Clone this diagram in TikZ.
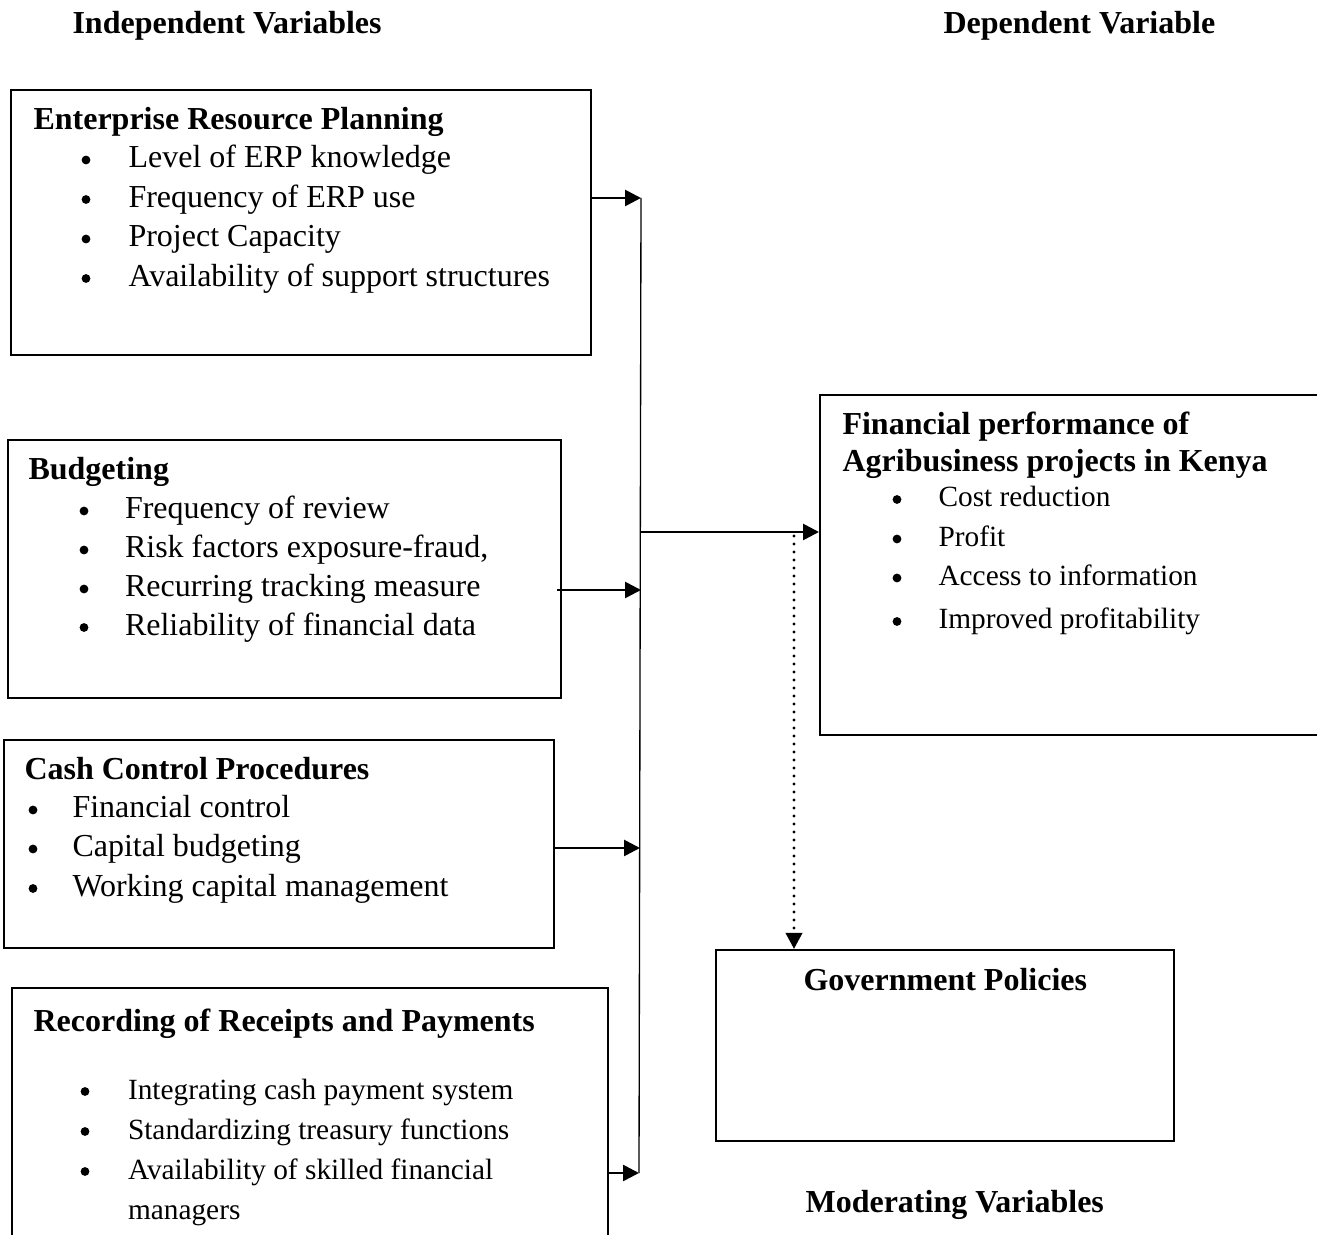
\documentclass[tikz,border=0pt]{standalone}
\usepackage{fontspec}
\setmainfont{Liberation Serif}
\usetikzlibrary{arrows.meta,fit}
\begin{document}
\begin{tikzpicture}[x=0.375pt,y=-0.375pt,
  every node/.style={font=\fontsize{12}{14}\selectfont, inner sep=0pt},
  box/.style={draw, line width=0.75pt, inner sep=0pt},
  ttl/.style={anchor=base west, font=\fontsize{12}{14}\selectfont\bfseries},
  itm/.style={anchor=base west},
  itms/.style={anchor=base west, font=\fontsize{11}{13}\selectfont},
  bul/.style={circle, fill, minimum size=3.3pt, inner sep=0pt},
  arr/.style={line width=1pt, -{Triangle[length=6pt,width=6pt]}},
  vl/.style={line width=0.5pt},
  dotarr/.style={line width=1.3pt, line cap=round, dash pattern=on 0pt off 3pt, -{Triangle[length=6pt,width=6pt]}}]
\useasboundingbox (0,0) rectangle (1317,1235);

% headers
\node[ttl] (hind) at (72,34) {Independent Variables};
\node[ttl] (hdep) at (943,34) {Dependent Variable};
\node[ttl] (hmod) at (805,1212) {Moderating Variables};

% boxes
\node[box, fit={(11,90)(591,355)}] (erp) {};
\node[box, fit={(8,440)(561,698)}] (bud) {};
\node[box, fit={(4,740)(554,948)}] (cash) {};
\node[box, fit={(12,988)(608,1250)}] (rec) {};
\node[box, fit={(820,395)(1330,735)}] (fin) {};
\node[box, fit={(716,950)(1174,1141)}] (gov) {};

% ERP
\node[ttl] (erpt) at (33,130) {Enterprise Resource Planning};
\node[bul] (erpb1) at (86,160) {};
\node[itm] (erpi1) at (128,168) {Level of ERP knowledge};
\node[bul] (erpb2) at (86,199.5) {};
\node[itm] (erpi2) at (128,207.5) {Frequency of ERP use};
\node[bul] (erpb3) at (86,239) {};
\node[itm] (erpi3) at (128,247) {Project Capacity};
\node[bul] (erpb4) at (86,278.5) {};
\node[itm] (erpi4) at (128,286.5) {Availability of support structures};

% Budgeting
\node[ttl] (budt) at (28,480) {Budgeting};
\node[bul] (budb1) at (84,511) {};
\node[itm] (budi1) at (124.5,519) {Frequency of review};
\node[bul] (budb2) at (84,550) {};
\node[itm] (budi2) at (124.5,558) {Risk factors exposure-fraud,};
\node[bul] (budb3) at (84,589) {};
\node[itm] (budi3) at (124.5,597) {Recurring tracking measure};
\node[bul] (budb4) at (84,627.5) {};
\node[itm] (budi4) at (124.5,635.5) {Reliability of financial data};

% Cash
\node[ttl] (casht) at (24,780) {Cash Control Procedures};
\node[bul] (cashb1) at (33,810) {};
\node[itm] (cashi1) at (72,818) {Financial control};
\node[bul] (cashb2) at (33,849) {};
\node[itm] (cashi2) at (72,857) {Capital budgeting};
\node[bul] (cashb3) at (33,888.5) {};
\node[itm] (cashi3) at (72,896.5) {Working capital management};

% Recording
\node[ttl] (rect) at (33,1032) {Recording of Receipts and Payments};
\node[bul] (recb1) at (85,1091.5) {};
\node[itms] (reci1) at (127.5,1099) {Integrating cash payment system};
\node[bul] (recb2) at (85,1131.5) {};
\node[itms] (reci2) at (127.5,1139) {Standardizing treasury functions};
\node[bul] (recb3) at (85,1171.5) {};
\node[itms] (reci3) at (127.5,1179) {Availability of skilled financial};
\node[itms] (reci4) at (127.5,1219) {managers};

% Financial performance
\node[ttl] (fint1) at (842,435) {Financial performance of};
\node[ttl] (fint2) at (842,472) {Agribusiness projects in Kenya};
\node[bul] (finb1) at (897,499.5) {};
\node[itms] (fini1) at (938,507) {Cost reduction};
\node[bul] (finb2) at (897,539) {};
\node[itms] (fini2) at (938,546.5) {Profit};
\node[bul] (finb3) at (897,578) {};
\node[itms] (fini3) at (938,585.5) {Access to information};
\node[bul] (finb4) at (897,621.5) {};
\node[itms] (fini4) at (938,629) {Improved profitability};

% Government
\node[ttl] (govt) at (803,991) {Government Policies};

% connectors
\coordinate (vtop) at (641,198);
\coordinate (vbot) at (639,1173);
\coordinate (jf) at (641,532);
\coordinate (jb) at (641,590);
\coordinate (jc) at (640,848);
\coordinate (dtop) at (794,536);
\draw[vl] (vtop) -- (vbot);
\draw[arr] (erp.east |- vtop) -- (vtop);
\draw[arr, shorten <=-1.9pt] (bud.east |- jb) -- (jb);
\draw[arr] (cash.east |- jc) -- (jc);
\draw[arr] (rec.east |- vbot) -- (vbot);
\draw[arr] (jf) -- (fin.west |- jf);
\draw[dotarr] (dtop) -- (gov.north -| dtop);
\end{tikzpicture}
\end{document}
